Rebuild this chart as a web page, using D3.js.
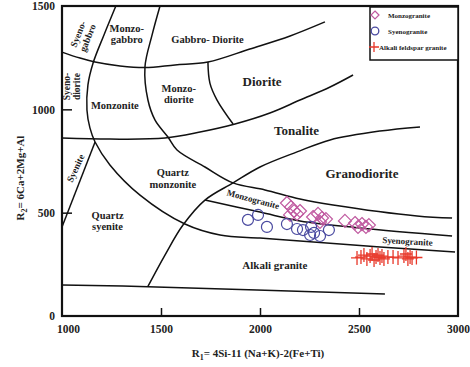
<!DOCTYPE html>
<html><head><meta charset="utf-8">
<script src="https://cdn.jsdelivr.net/npm/d3@7"></script>
<style>
html,body{margin:0;padding:0;background:#fff;}
svg text{font-family:"Liberation Serif","Times New Roman",serif;font-weight:bold;fill:#222;}
</style></head>
<body>
<svg id="chart" width="470" height="367"></svg>
<script>
// ---- Data ----
const xTicks = [1000, 1500, 2000, 2500, 3000];
const yTicks = [0, 500, 1000, 1500];

// Field boundary lines [R1, R2]
const lineGabbroTop = [[1000,1277],[1091,1248],[1167,1229],[1293,1210],[1419,1202],[1571,1215],[1737,1229],[1949,1292],[2152,1355],[2328,1423]];
const lineLeftCurve = [[1272,1500],[1212,1360],[1157,1224],[1131,1118],[1126,997],[1141,910],[1167,842],[1242,731],[1394,585],[1621,445],[1798,392],[2000,377],[2202,363],[2606,334],[2985,310]];
const lineMidCurve = [[1495,1500],[1455,1360],[1419,1205],[1434,1045],[1470,948],[1535,866],[1581,803],[1722,721],[1864,644],[2025,610],[2202,566],[2369,537],[2793,484],[2970,474]];
const lineTonaliteTop = [[1000,861],[1242,856],[1520,861],[1697,890],[1874,929],[2050,982],[2202,1045],[2354,1108],[2470,1166]];
const lineDioriteLeft = [[1737,1229],[1747,1127],[1783,1045],[1864,929]];
const lineSyenite = [[1000,431],[1167,842]];
const lineDiagonal = [[1434,143],[1520,295],[1611,440],[1722,561],[1864,644],[2000,721],[2187,794],[2354,852],[2606,895],[2808,915]];
const lineMonzoSyeno = [[1722,561],[2000,503],[2202,460],[2505,426],[2970,387]];
const lineBottom = [[1000,150],[1434,142],[2631,106]];
const boundaries = [lineGabbroTop, lineLeftCurve, lineMidCurve, lineTonaliteTop, lineDioriteLeft, lineSyenite, lineDiagonal, lineMonzoSyeno, lineBottom];

// Samples
const monzograniteR1 = [2136,2157,2172,2187,2152,2202,2268,2293,2313,2303,2333,2429,2480,2495,2515,2535,2550];
const monzograniteR2 = [547,527,508,494,489,508,479,494,474,455,469,460,450,431,445,431,440];
const syenograniteR1 = [1939,1990,2035,2136,2187,2217,2258,2273,2303,2348,2253];
const syenograniteR2 = [465,489,431,445,421,416,431,402,387,416,392];
const alkaliR1 = [2490,2510,2525,2540,2556,2566,2576,2586,2596,2606,2616,2626,2646,2672,2697,2727,2737,2747,2758,2768,2790];
const alkaliR2 = [281,285,295,276,290,300,271,285,295,281,290,276,285,285,281,290,300,276,285,281,283];

// Field names
const fieldLabels = [
  {t:["Monzo-","gabbro"], x:1327, y:1365, s:10.5, r:0},
  {t:["Gabbro- Diorite"], x:1735, y:1340, s:10.5, r:0},
  {t:["Diorite"], x:2010, y:1135, s:13, r:0},
  {t:["Monzonite"], x:1267, y:1020, s:10.5, r:0},
  {t:["Monzo-","diorite"], x:1590, y:1075, s:10.5, r:0},
  {t:["Tonalite"], x:2185, y:900, s:13, r:0},
  {t:["Granodiorite"], x:2515, y:690, s:13, r:0},
  {t:["Quartz","monzonite"], x:1560, y:665, s:10.5, r:0},
  {t:["Quartz","syenite"], x:1230, y:460, s:10.5, r:0},
  {t:["Monzogranite"], x:1965, y:565, s:9, r:15},
  {t:["Syenogranite"], x:2745, y:362, s:9, r:3},
  {t:["Alkali granite"], x:2075, y:245, s:11, r:0},
  {t:["Syeno-","gabbro"], x:1105, y:1355, s:9.5, r:-68},
  {t:["Syeno-","diorite"], x:1050, y:1110, s:9.5, r:-90},
  {t:["Syenite"], x:1068, y:715, s:9.5, r:-65}
];

// ---- Layout ----
const svg = d3.select("#chart");
const x = d3.scaleLinear().domain([1000,3000]).range([62,458]);
const y = d3.scaleLinear().domain([0,1500]).range([316,6]);

const line = d3.line().x(d=>x(d[0])).y(d=>y(d[1])).curve(d3.curveCatmullRom.alpha(0.5));

const g = svg.append("g");
g.selectAll("path.b").data(boundaries).join("path")
  .attr("class","b").attr("d", line)
  .attr("fill","none").attr("stroke","#111").attr("stroke-width",1.5);

// Field labels
fieldLabels.forEach(f=>{
  const t = g.append("text")
    .attr("transform",`translate(${x(f.x)},${y(f.y)}) rotate(${f.r})`)
    .attr("text-anchor","middle").style("font-size",f.s+"px");
  const n = f.t.length;
  f.t.forEach((s,i)=>{
    t.append("tspan").attr("x",0).attr("dy", i===0 ? (-(n-1)*0.55+0.35)+"em" : "1.1em").text(s);
  });
});

// Samples
const diamond = "M0,-6.5L6.5,0L0,6.5L-6.5,0Z";
g.selectAll("path.mz").data(monzograniteR1).join("path").attr("class","mz")
  .attr("transform",(d,i)=>`translate(${x(d)},${y(monzograniteR2[i])})`)
  .attr("d",diamond).attr("fill","none").attr("stroke","#c05aa0").attr("stroke-width",1.2);
g.selectAll("circle.sy").data(syenograniteR1).join("circle").attr("class","sy")
  .attr("cx",d=>x(d)).attr("cy",(d,i)=>y(syenograniteR2[i])).attr("r",5.5)
  .attr("fill","none").attr("stroke","#4a4aa0").attr("stroke-width",1.2);
g.selectAll("path.ak").data(alkaliR1).join("path").attr("class","ak")
  .attr("transform",(d,i)=>`translate(${x(d)},${y(alkaliR2[i])})`)
  .attr("d","M-6,0H6M0,-7V7").attr("fill","none").attr("stroke","#e8382a").attr("stroke-width",1.3);

// Frame
svg.append("rect").attr("x",62).attr("y",6).attr("width",396).attr("height",310)
  .attr("fill","none").attr("stroke","#111").attr("stroke-width",2.2);

// Axes (inner ticks)
const xAxis = d3.axisBottom(x).tickValues(xTicks).tickSizeInner(-8).tickSizeOuter(0).tickPadding(9).tickFormat(d3.format("d"));
const gx = svg.append("g").attr("transform","translate(0,316)").call(xAxis);
gx.select(".domain").remove();
gx.selectAll(".tick line").attr("stroke","#111").attr("stroke-width",1.5)
  .filter(d=>d===1000||d===3000).remove();
gx.selectAll(".tick text").style("font-size","11.5px").attr("fill","#222")
  .style("font-family","'Liberation Serif',serif").style("font-weight","bold")
  .attr("dx",d=>d===1000?6:0);

const yAxis = d3.axisLeft(y).tickValues(yTicks).tickSizeInner(-10).tickSizeOuter(0).tickPadding(7).tickFormat(d3.format("d"));
const gy = svg.append("g").attr("transform","translate(62,0)").call(yAxis);
gy.select(".domain").remove();
gy.selectAll(".tick line").attr("stroke","#111").attr("stroke-width",1.5)
  .filter(d=>d===0||d===1500).remove();
gy.selectAll(".tick text").style("font-size","11.5px").attr("fill","#222")
  .style("font-family","'Liberation Serif',serif").style("font-weight","bold");

// Axis titles
const xt = svg.append("text").attr("x",258).attr("y",357).attr("text-anchor","middle").style("font-size","11px");
xt.append("tspan").text("R");
xt.append("tspan").attr("dy",3).style("font-size","8px").text("1");
xt.append("tspan").attr("dy",-3).text("= 4Si-11 (Na+K)-2(Fe+Ti)");

const yt = svg.append("text").attr("transform","translate(24,178) rotate(-90)").attr("text-anchor","middle").style("font-size","11px");
yt.append("tspan").text("R");
yt.append("tspan").attr("dy",3).style("font-size","8px").text("2");
yt.append("tspan").attr("dy",-3).text("= 6Ca+2Mg+Al");

// Legend
const lg = svg.append("g");
lg.append("rect").attr("x",370).attr("y",7).attr("width",88).attr("height",53)
  .attr("fill","#fff").attr("stroke","#111").attr("stroke-width",1.5);
const legendItems = ["Monzogranite","Syenogranite","Alkali feldspar granite"];
const ly = [15,31,47];
lg.append("path").attr("transform",`translate(375,${ly[0]})`).attr("d","M0,-4L4,0L0,4L-4,0Z")
  .attr("fill","none").attr("stroke","#c05aa0").attr("stroke-width",1.2);
lg.append("circle").attr("cx",375).attr("cy",ly[1]).attr("r",3.8)
  .attr("fill","none").attr("stroke","#4a4aa0").attr("stroke-width",1.3);
lg.append("path").attr("transform",`translate(374,${ly[2]})`).attr("d","M-5,0H5M0,-5V5")
  .attr("fill","none").attr("stroke","#e8382a").attr("stroke-width",1.3);
lg.selectAll("text.l").data(legendItems).join("text").attr("class","l")
  .attr("x",(d,i)=>i===2?379:388).attr("y",(d,i)=>ly[i]+2.5)
  .style("font-size","7px").text(d=>d);
</script>
</body></html>
